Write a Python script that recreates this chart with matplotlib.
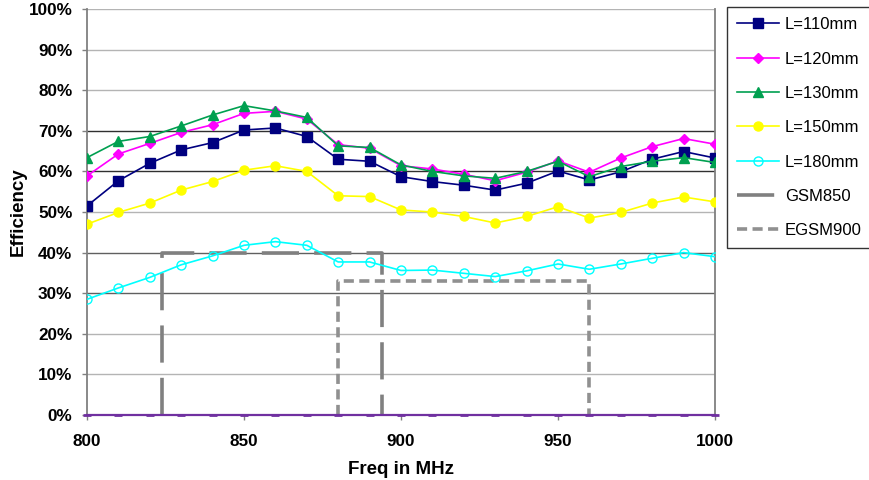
import matplotlib
matplotlib.use("Agg")
import matplotlib.pyplot as plt

plt.rcParams['font.family'] = ['Liberation Sans', 'DejaVu Sans']

freq = list(range(800, 1001, 10))

eff_110 = [51.5, 57.7, 62.0, 65.3, 67.1, 70.2, 70.7, 68.6, 63.0, 62.5, 58.7,
           57.5, 56.6, 55.4, 57.1, 60.1, 57.9, 59.9, 63.0, 64.9, 63.3]
eff_120 = [58.9, 64.3, 66.9, 69.6, 71.5, 74.3, 74.8, 72.9, 66.6, 65.7, 61.4,
           60.6, 59.3, 57.7, 59.8, 62.6, 59.8, 63.3, 66.1, 68.1, 66.7]
eff_130 = [63.4, 67.4, 68.6, 71.2, 73.9, 76.2, 74.9, 73.3, 66.3, 65.9, 61.6,
           60.0, 58.9, 58.3, 60.0, 62.5, 58.7, 61.2, 62.5, 63.4, 62.2]
eff_150 = [47.0, 49.9, 52.2, 55.4, 57.5, 60.3, 61.4, 60.0, 54.0, 53.8, 50.5,
           50.0, 48.9, 47.3, 48.9, 51.3, 48.5, 49.9, 52.2, 53.7, 52.5]
eff_180 = [28.5, 31.3, 33.9, 37.0, 39.2, 41.8, 42.7, 41.8, 37.7, 37.7, 35.6,
           35.7, 34.9, 34.1, 35.5, 37.2, 35.9, 37.2, 38.6, 40.0, 39.0]
baseline = [0.0] * len(freq)

# band masks (frequency corners and band efficiency level)
gsm850_f = [824, 824, 894, 894]
gsm850_e = [0, 40, 40, 0]
egsm900_f = [880, 880, 960, 960]
egsm900_e = [0, 33, 33, 0]

fig = plt.figure(figsize=(8.7, 4.8), dpi=100)
ax = fig.add_axes([0.1, 0.1354, 0.7218, 0.8458])

# horizontal gridlines
dark_levels = {30: '#606060', 40: '#606060', 60: '#303030', 70: '#303030'}
for lvl in range(10, 101, 10):
    ax.axhline(lvl, color=dark_levels.get(lvl, '#b4b4b4'), lw=1.0, zorder=0)

ax.plot(freq, baseline, color='#7030A0', lw=1.6, marker='_', markersize=6,
        markeredgewidth=2, zorder=5, clip_on=False)

h_gsm, = ax.plot(gsm850_f, gsm850_e, color='#808080', lw=2.6,
                 dashes=(10.3, 4.2), label='GSM850', zorder=3)
h_egsm, = ax.plot(egsm900_f, egsm900_e, color='#909090', lw=2.6,
                  dashes=(2.8, 1.5), label='EGSM900', zorder=3)

series = [
    (eff_110, 'L=110mm', '#000080', 's', 7, dict()),
    (eff_120, 'L=120mm', '#FF00FF', 'D', 5, dict()),
    (eff_130, 'L=130mm', '#00A050', '^', 7, dict()),
    (eff_150, 'L=150mm', '#FFFF00', 'o', 6.5, dict()),
    (eff_180, 'L=180mm', '#00FFFF', 'o', 6.5, dict(markerfacecolor='none')),
]
handles = []
for vals, lab, col, mk, ms, extra in series:
    h, = ax.plot(freq, vals, color=col, marker=mk, markersize=ms, lw=1.2,
                 label=lab, zorder=4, **extra)
    handles.append(h)
handles += [h_gsm, h_egsm]

ax.set_xlim(800, 1000)
ax.set_ylim(0, 100)
ax.set_xticks(range(800, 1001, 50))
ax.set_yticks(range(0, 101, 10))
ax.set_yticklabels([f'{v}%' for v in range(0, 101, 10)])
for lab in ax.get_xticklabels() + ax.get_yticklabels():
    lab.set_fontweight('bold')
    lab.set_fontsize(12.3)
ax.tick_params(axis='both', direction='out', length=3.5, color='#808080',
               width=1.0)
ax.tick_params(axis='x', pad=10.5)
ax.tick_params(axis='y', pad=7)

ax.spines['top'].set_visible(False)
ax.spines['bottom'].set_visible(False)
for s in ['left', 'right']:
    ax.spines[s].set_color('#808080')
    ax.spines[s].set_linewidth(1.3)

ax.set_xlabel('Freq in MHz', fontweight='bold', fontsize=13.5, labelpad=8)
ax.set_ylabel('Efficiency', fontweight='bold', fontsize=13.5)
ax.yaxis.set_label_coords(-0.0955, 0.5)

leg = fig.legend(handles=handles, loc='upper left',
                 bbox_to_anchor=(0.836, 0.985), bbox_transform=fig.transFigure,
                 fancybox=False, framealpha=1, edgecolor='#333333',
                 fontsize=12, labelspacing=1.16, handlelength=2.5,
                 handletextpad=0.35, borderpad=0.6, borderaxespad=0)
leg.get_frame().set_linewidth(1.0)

fig.savefig('out.png', dpi=100)
